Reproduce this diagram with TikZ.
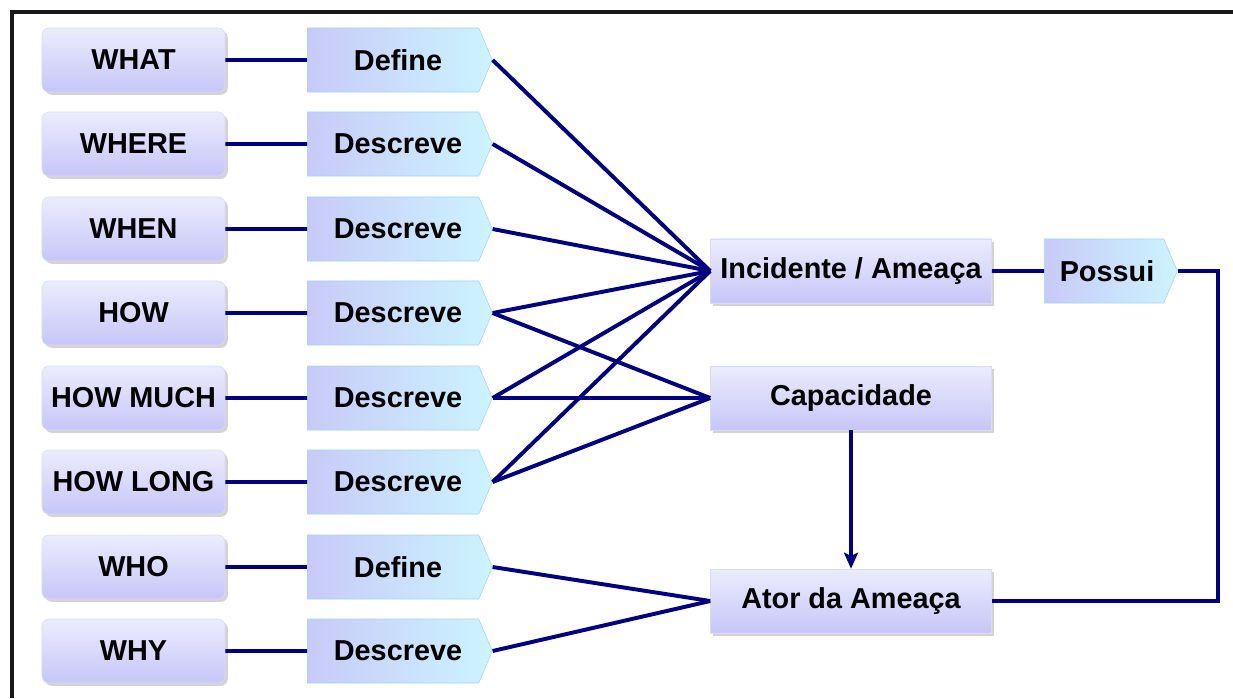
\documentclass[tikz,border=0pt]{standalone}
\usepackage{fontspec}
\setmainfont{Liberation Sans}
\usetikzlibrary{shapes.symbols,shadows,arrows.meta}

\definecolor{linenavy}{RGB}{0,0,128}
\definecolor{boxtop}{RGB}{236,236,254}
\definecolor{boxbottom}{RGB}{198,198,248}
\definecolor{boxborder}{RGB}{218,218,250}
\definecolor{tagleft}{RGB}{200,202,248}
\definecolor{tagright}{RGB}{204,244,254}
\definecolor{tagborder}{RGB}{164,212,242}

\tikzset{
    boxshadow/.style={drop shadow={shadow xshift=0.07cm,shadow yshift=-0.07cm,opacity=0.35}},
    boxtext/.style={font=\fontsize{20.5}{24}\selectfont\bfseries,text=black},
    qbox/.style={rectangle,rounded corners=5pt,draw=boxborder,top color=boxtop,bottom color=boxbottom,
        minimum width=4.575cm,minimum height=1.6cm,boxshadow,boxtext},
    tagbox/.style={signal,signal to=east,signal pointer angle=134,draw=tagborder,left color=tagleft,right color=tagright,
        minimum width=4.625cm,minimum height=1.6cm,anchor=west,boxtext},
    mainbox/.style={rectangle,draw=boxborder,top color=boxtop,bottom color=boxbottom,
        minimum width=7.025cm,minimum height=1.6cm,boxshadow,boxtext}
}

\begin{document}
\begin{tikzpicture}[x=0.025cm,y=-0.025cm]
    \useasboundingbox (0,0) rectangle (1233,698);
    % frame
    \draw[line width=2.2pt,black!90] (12,698) -- (12,12) -- (1233,12);
    \begin{scope}[every node/.style={qbox}]
        \node (q1) at (133.5,60) {WHAT};
        \node (q2) at (133.5,144) {WHERE};
        \node (q3) at (133.5,229) {WHEN};
        \node (q4) at (133.5,313) {HOW};
        \node (q5) at (133.5,398) {HOW MUCH};
        \node (q6) at (133.5,482) {HOW LONG};
        \node (q7) at (133.5,567) {WHO};
        \node (q8) at (133.5,651) {WHY};
    \end{scope}
    \begin{scope}[every node/.style={tagbox}]
        \node (v1) at (307,60) {\hspace{0.25cm}Define};
        \node (v2) at (307,144) {\hspace{0.25cm}Descreve};
        \node (v3) at (307,229) {\hspace{0.25cm}Descreve};
        \node (v4) at (307,313) {\hspace{0.25cm}Descreve};
        \node (v5) at (307,398) {\hspace{0.25cm}Descreve};
        \node (v6) at (307,482) {\hspace{0.25cm}Descreve};
        \node (v7) at (307,567) {\hspace{0.25cm}Define};
        \node (v8) at (307,651) {\hspace{0.25cm}Descreve};
        \node[minimum width=3.325cm] (pos) at (1044,271) {\hspace{0.15cm}Possui};
    \end{scope}
    \begin{scope}[every node/.style={mainbox}]
        \node (inc) at (851,271) {Incidente / Ameaça};
        \node (cap) at (851,398) {Capacidade};
        \node (ator) at (851,601) {Ator da Ameaça};
    \end{scope}
    \coordinate (bend) at (1218,601);
    \begin{scope}[every edge/.style={draw=linenavy,line width=2.8pt}]
        \path (q1) edge (v1);
        \path (q2) edge (v2);
        \path (q3) edge (v3);
        \path (q4) edge (v4);
        \path (q5) edge (v5);
        \path (q6) edge (v6);
        \path (q7) edge (v7);
        \path (q8) edge (v8);
        \path (v1.east) edge (inc.west);
        \path (v2.east) edge (inc.west);
        \path (v3.east) edge (inc.west);
        \path (v4.east) edge (inc.west);
        \path (v5.east) edge (inc.west);
        \path (v6.east) edge (inc.west);
        \path (v4.east) edge (cap.west);
        \path (v5.east) edge (cap.west);
        \path (v6.east) edge (cap.west);
        \path (v7.east) edge (ator.west);
        \path (v8.east) edge (ator.west);
        \path (inc) edge (pos);
        \path (cap) edge[-{Stealth[length=0.4cm,width=0.35cm,inset=0.08cm]}] (ator);
    \end{scope}
    \draw[linenavy,line width=2.8pt] (pos.east) -| (bend) -- (ator.east);
\end{tikzpicture}
\end{document}
